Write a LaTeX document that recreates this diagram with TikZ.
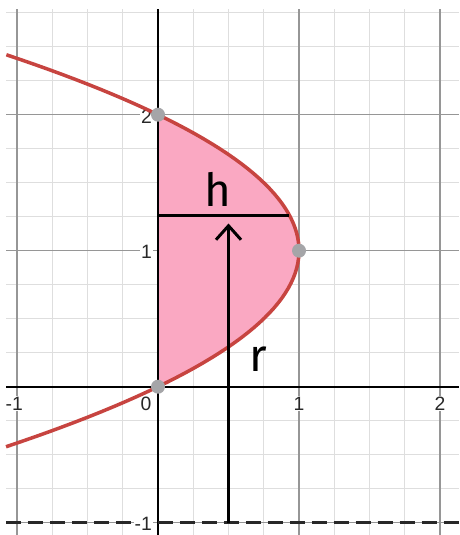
\documentclass[tikz,border=0pt]{standalone}
\usepackage{fontspec}
\setmainfont{Liberation Sans}
\newfontfamily\handfont{Fira Sans}
\usetikzlibrary{arrows.meta}
\definecolor{CurveRed}{RGB}{199,68,64}
\definecolor{RegionPink}{RGB}{250,168,194}
\definecolor{DotGray}{RGB}{165,165,168}
\definecolor{MajorGray}{RGB}{150,150,150}
\definecolor{MinorGray}{RGB}{222,222,222}
\definecolor{LabelGray}{RGB}{40,40,40}
\tikzset{
  minorgrid/.style={draw=MinorGray,line width=0.5pt},
  majorgrid/.style={draw=MajorGray,line width=0.6pt},
  axisline/.style={draw=black,line width=1.1pt},
  curveline/.style={draw=CurveRed,line width=2pt},
  dashline/.style={draw=LabelGray,line width=1.4pt,dash pattern=on 8.5pt off 4pt},
  dot/.style={circle,fill=DotGray,inner sep=0pt,minimum size=2.8mm},
  ticklabel/.style={font=\fontsize{11}{13}\selectfont,text=LabelGray,fill=white,inner sep=0.5pt},
  handlabel/.style={font=\handfont\fontsize{26}{28}\selectfont,inner sep=0pt},
  hline/.style={draw=black,line width=1.4pt},
  rarrow/.style={-{Straight Barb[length=2.8mm,width=5mm,line width=1.7pt]},draw=black,line width=1.7pt}
}
\begin{document}
\begin{tikzpicture}[x=2.82cm,y=2.72cm]
\useasboundingbox (-1.1206,-1.0904) rectangle (2.1348,2.8434);
% grid
\draw[minorgrid] (-1.078,-1.0904) grid[xstep=0.25,ystep=0.25] (2.1348,2.777);
\draw[majorgrid] (-1.078,-1.0904) grid[step=1] (2.1348,2.777);
% tick labels
\node[ticklabel] (xm1) at (-1.02,-0.125) {-1};
\node[ticklabel] (x0) at (-0.085,-0.125) {0};
\node[ticklabel] (x1) at (1,-0.125) {1};
\node[ticklabel] (x2) at (2,-0.125) {2};
\node[ticklabel,anchor=east] (y2) at (-0.035,1.985) {2};
\node[ticklabel,anchor=east] (y1) at (-0.035,0.99) {1};
\node[ticklabel,anchor=east] (ym1) at (-0.035,-1.005) {-1};
% region and curve
\fill[RegionPink] plot[variable=\t,domain=0:2,samples=60] ({2*\t-\t*\t},\t) -- cycle;
\draw[axisline] (-1.078,0) -- (2.1348,0);
\draw[axisline] (0,-1.0904) -- (0,2.777);
\draw[dashline] (-1.078,-1) -- (-0.16,-1) (0,-1) -- (2.1348,-1);
\draw[curveline] plot[variable=\t,domain=-0.4415:2.4415,samples=80] ({2*\t-\t*\t},\t);
\node[dot] (p0) at (0,0) {};
\node[dot] (p2) at (0,2) {};
\node[dot] (p1) at (1,1) {};
% h and r
\coordinate (hl) at (0,1.26);
\coordinate (hr) at (0.93,1.26);
\draw[hline] (hl) -- (hr);
\node[handlabel] (hlab) at (0.426,1.45) {h};
\coordinate (rbase) at (0.5,-1);
\coordinate (rtip) at (0.5,1.2);
\draw[rarrow] (rbase) -- (rtip);
\node[handlabel] (rlab) at (0.71,0.2) {r};
\end{tikzpicture}
\end{document}
